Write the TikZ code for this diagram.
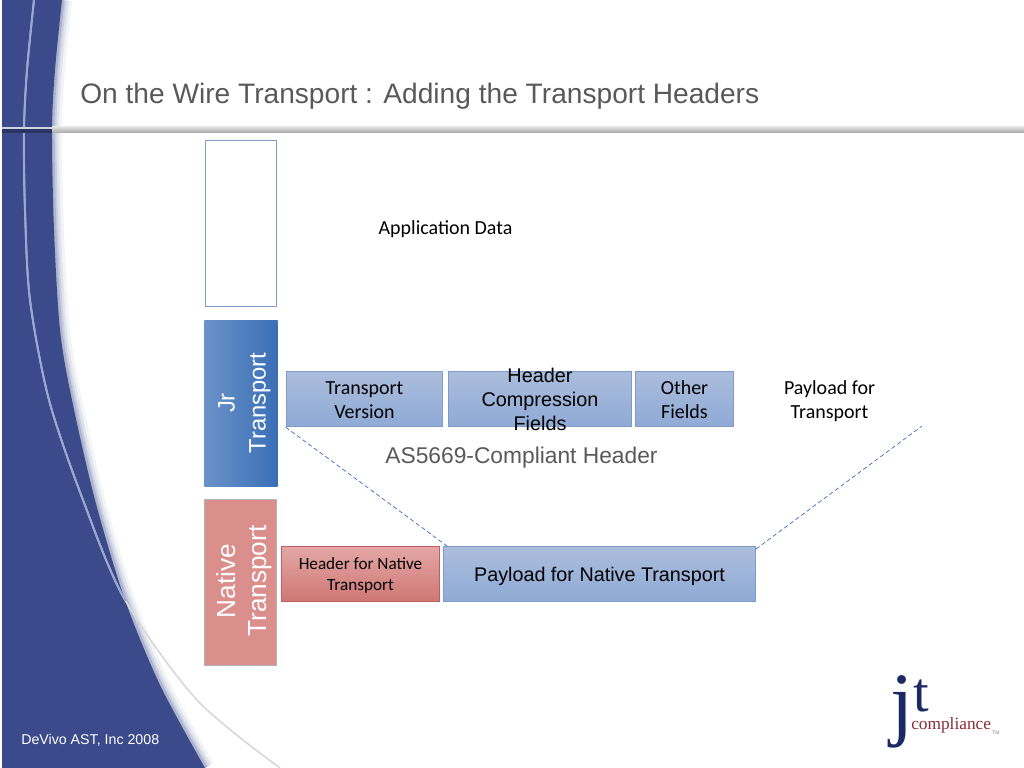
\documentclass[tikz,border=0pt]{standalone}
\usepackage{fontspec}
\setmainfont{Liberation Sans}
\newfontfamily\bodyfont{Carlito}
\newfontfamily\logofont{Liberation Serif}
\definecolor{slideblue}{HTML}{3A4A8A}
\definecolor{titlegray}{HTML}{595959}
\definecolor{logonavy}{HTML}{1B2A63}
\definecolor{logored}{HTML}{8A2A38}
\definecolor{fieldtop}{HTML}{ABBDDC}
\definecolor{fieldbot}{HTML}{8FAAD6}
\definecolor{fieldline}{HTML}{7F9CC8}
\definecolor{redtop}{HTML}{E3A7A5}
\definecolor{redbot}{HTML}{CF7775}
\definecolor{redline}{HTML}{BE5F5D}
\definecolor{jrleft}{HTML}{6A92C8}
\definecolor{jrright}{HTML}{3A6FB6}
\definecolor{nativefill}{HTML}{DB8F8D}
\definecolor{wedgeblue}{HTML}{3A6DB5}
\definecolor{tintline}{HTML}{9AA8D0}
\tikzset{
  bluefield/.style={draw=fieldline, rectangle, line width=0.6pt, inner sep=0pt, align=center, top color=fieldtop, bottom color=fieldbot},
  redfield/.style={draw=redline, rectangle, line width=0.6pt, inner sep=0pt, align=center, top color=redtop, bottom color=redbot},
  sidelabel/.style={text=white, rotate=90, align=center},
  bodytext/.style={align=center, font=\bodyfont\fontsize{14.2}{17}\selectfont},
  wedge/.style={densely dashed, draw=wedgeblue, line width=0.5pt},
}
\begin{document}
\begin{tikzpicture}[x=0.025cm, y=-0.025cm]
\useasboundingbox (0,0) rectangle (1024,768);
% swoosh
\foreach \w/\o in {20/0.06, 14/0.10, 9/0.14, 5/0.2} {
  \draw[slideblue, line width=\w*0.7087pt, opacity=\o] plot[smooth] coordinates {(62,0) (55,70) (52,130) (54,230) (60,330) (72,400) (95,500) (125,600) (160,685) (205,768)};
}
\fill[slideblue] (2,0) -- plot[smooth] coordinates {(62,0) (55,70) (52,130) (54,230) (60,330) (72,400) (95,500) (125,600) (160,685) (205,768)} -- (2,768) -- cycle;
\draw[gray!30, line width=1.2pt] plot[smooth] coordinates {(34,0) (27,70) (24,130) (25,210) (30,300) (49,400) (83,500) (125,600) (197,700) (280,768)};
\begin{scope}
\clip (0,0) rectangle (1024,600);
\draw[tintline, line width=1.4pt] plot[smooth] coordinates {(34,0) (27,70) (24,130) (25,210) (30,300) (49,400) (83,500) (125,600) (197,700) (280,768)};
\end{scope}
% rule
\shade[top color=gray!25, bottom color=gray!70] (52,127) rectangle (1024,133);
\fill[white!75!slideblue] (2,127) rectangle (52,129);
\fill[slideblue!70!black] (2,129) rectangle (52,133);
\node[anchor=west, text=titlegray, inner sep=0pt, font=\fontsize{20}{24}\selectfont] (title) at (80,96) {On the Wire Transport : Adding the Transport Headers};
\node[anchor=west, text=white, inner sep=0pt, font=\fontsize{10.1}{12}\selectfont] (footer) at (21,740) {DeVivo AST, Inc 2008};
% left column
\node[draw=fieldline, rectangle, line width=0.6pt, inner sep=0pt, minimum width=51pt, minimum height=118pt] (app) at (241,223.5) {};
\node[rectangle, inner sep=0pt, left color=jrleft, right color=jrright, minimum width=52pt, minimum height=118.5pt] (jr) at (241,403.5) {};
\node[sidelabel, font=\fontsize{16.9}{22}\selectfont] (jrtext) at (244.5,403) {Jr\\Transport};
\node[draw=gray!60, rectangle, fill=nativefill, line width=0.4pt, inner sep=0pt, minimum width=51pt, minimum height=118pt] (native) at (240.5,582.5) {};
\node[sidelabel, font=\fontsize{18.6}{22}\selectfont] (nativetext) at (244.5,581) {Native\\Transport};
% header fields
\node[bluefield, minimum width=111.5pt, minimum height=39.5pt] (ver) at (364.5,399) {};
\node[bodytext] (vertext) at (364.5,400.5) {Transport\\Version};
\node[bluefield, minimum width=130.5pt, minimum height=39.5pt] (comp) at (540,399) {};
\node[align=center, font=\fontsize{14.1}{17}\selectfont] (comptext) at (540,399.5) {Header\\Compression\\Fields};
\node[bluefield, minimum width=70pt, minimum height=39.5pt] (other) at (684.5,399) {};
\node[bodytext] (othertext) at (684.5,399.5) {Other\\Fields};
\node[bodytext] (paytrans) at (829.5,401) {Payload for\\Transport};
\node[bodytext] (appdata) at (445.5,229.5) {Application Data};
\node[text=titlegray, inner sep=0pt, font=\fontsize{16.2}{19}\selectfont] (compliant) at (521.5,458) {AS5669-Compliant Header};
% native row
\node[redfield, minimum width=112.5pt, minimum height=39.5pt] (hnative) at (360.5,574) {};
\node[align=center, font=\bodyfont\fontsize{12.2}{15}\selectfont] (hnativetext) at (360.5,575.5) {Header for Native\\Transport};
\node[bluefield, minimum width=221.5pt, minimum height=39.5pt] (pnative) at (599.5,574) {};
\node[inner sep=0pt, font=\fontsize{14.05}{17}\selectfont] (pnativetext) at (599.5,576.5) {Payload for Native Transport};
% wedge
\coordinate (wedgel) at (447,546);
\coordinate (wedger) at (756,549);
\coordinate (wedgeend) at (922,426);
\draw[wedge] (ver.south west) -- (wedgel);
\draw[wedge] (wedger) -- (wedgeend);
% logo
\node[text=logonavy, inner sep=0pt, font=\logofont\fontsize{59}{59}\selectfont] (logoj) at (902,712) {j};
\node[text=logonavy, inner sep=0pt, font=\logofont\fontsize{40}{40}\selectfont] (logot) at (921,696) {t};
\node[text=logored, anchor=west, inner sep=0pt, font=\logofont\fontsize{12.3}{14}\selectfont] (logotext) at (911,725) {compliance};
\node[text=gray, anchor=west, inner sep=0pt, font=\fontsize{3.5}{4}\selectfont] (logotm) at (992,733) {TM};
\end{tikzpicture}
\end{document}
